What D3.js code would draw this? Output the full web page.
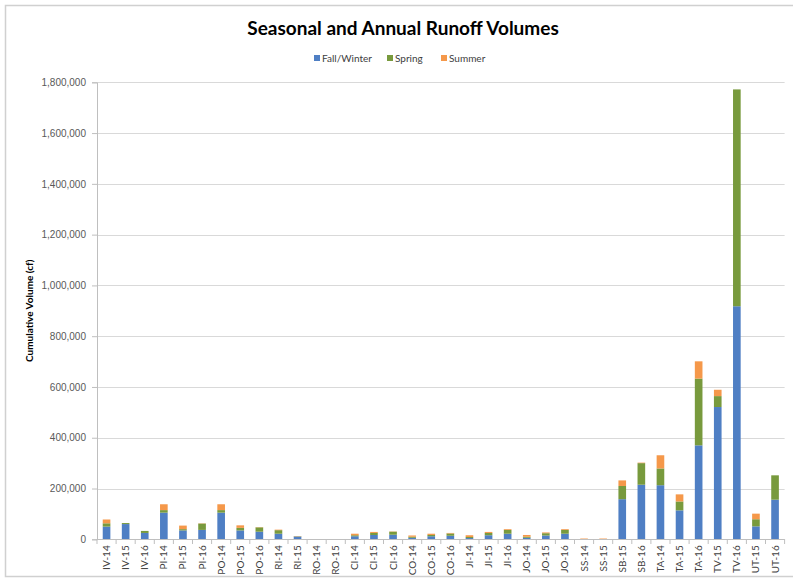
<!DOCTYPE html>
<html>
<head>
<meta charset="utf-8">
<script src="https://cdn.jsdelivr.net/npm/d3@7"></script>
<style>
  html, body { margin: 0; padding: 0; background: #fff; }
  svg { display: block; font-family: Lato, "Open Sans", sans-serif; }
</style>
</head>
<body>
<svg id="chart" width="793" height="581"></svg>
<script>
const categories = ["IV-14","IV-15","IV-16","PI-14","PI-15","PI-16","PO-14","PO-15","PO-16","RI-14","RI-15","RO-14","RO-15","CI-14","CI-15","CI-16","CO-14","CO-15","CO-16","JI-14","JI-15","JI-16","JO-14","JO-15","JO-16","SS-14","SS-15","SB-15","SB-16","TA-14","TA-15","TA-16","TV-15","TV-16","UT-15","UT-16"];
const fallWinter = [50000,60000,25000,105000,35000,37000,105000,35000,30000,22000,11000,0,0,12000,17000,18000,6000,12000,14000,5000,16000,22000,6000,15000,22000,1000,1000,158000,215000,213000,114000,370000,521000,918000,51000,156000];
const spring     = [13000,4000,8000,10000,5000,25000,10000,10000,17000,14000,1000,0,0,4000,8000,12000,4000,5000,9000,4000,9000,15000,4000,9000,15000,0,0,52000,85000,66000,35000,263000,43000,854000,28000,96000];
const summer     = [15000,0,0,23000,14000,1000,23000,10000,1000,2000,1000,0,0,6000,4000,1000,5000,5000,2000,7000,4000,3000,7000,3000,3000,2000,2000,22000,2000,52000,28000,68000,25000,0,22000,0];
const seriesNames = ["Fall/Winter","Spring","Summer"];
const seriesColors = ["#4f7fc4","#789a3d","#f5984a"];
const yTicks = [0,200000,400000,600000,800000,1000000,1200000,1400000,1600000,1800000];
const title = "Seasonal and Annual Runoff Volumes";
const yTitle = "Cumulative Volume (cf)";

(function () {
const svg = d3.select("#chart");

// chart border
svg.append("rect").attr("x",5.5).attr("y",5.5).attr("width",800).attr("height",571)
  .attr("fill","none").attr("stroke","#d0d0d0").attr("stroke-width",1.5);

const pLeft = 97, pRight = 784.6, pTop = 82.3, pBottom = 539.3;

const x = d3.scaleBand().domain(categories).range([pLeft, pRight]).paddingInner(0.6).paddingOuter(0.3);
const y = d3.scaleLinear().domain([0, 1800000]).range([pBottom, pTop]);

// gridlines
svg.append("g").selectAll("line").data(yTicks.filter(d => d > 0)).join("line")
  .attr("x1", pLeft).attr("x2", pRight)
  .attr("y1", d => Math.round(y(d)) + 0.5).attr("y2", d => Math.round(y(d)) + 0.5)
  .attr("stroke","#d9d9d9").attr("stroke-width",1);

// stacked data
const table = categories.map((c,i) => ({cat:c, "Fall/Winter":fallWinter[i], "Spring":spring[i], "Summer":summer[i]}));
const stack = d3.stack().keys(seriesNames)(table);

svg.append("g").selectAll("g").data(stack).join("g")
  .attr("fill", (d,i) => seriesColors[i])
  .selectAll("rect").data(d => d).join("rect")
  .attr("x", d => x(d.data.cat))
  .attr("width", x.bandwidth())
  .attr("y", d => y(d[1]))
  .attr("height", d => Math.max(0, y(d[0]) - y(d[1])));

// y axis
const yAxis = d3.axisLeft(y).tickValues(yTicks).tickSize(5).tickPadding(6)
  .tickFormat(d => d3.format(",")(d));
const gy = svg.append("g").attr("transform", `translate(${pLeft},0)`).call(yAxis);
gy.select(".domain").attr("stroke","#bfbfbf");
gy.selectAll(".tick line").attr("stroke","#bfbfbf");
gy.selectAll(".tick text").attr("fill","#595959").attr("font-size","10px");

// x axis line
svg.append("line").attr("x1", pLeft).attr("x2", pRight)
  .attr("y1", Math.round(pBottom)+0.5).attr("y2", Math.round(pBottom)+0.5)
  .attr("stroke","#bfbfbf");
// category boundary ticks
const bounds = d3.range(categories.length + 1).map(i => pLeft + i * (pRight - pLeft) / categories.length);
svg.append("g").selectAll("line").data(bounds).join("line")
  .attr("x1", d => d).attr("x2", d => d)
  .attr("y1", Math.round(pBottom)).attr("y2", Math.round(pBottom) + 5)
  .attr("stroke","#bfbfbf");

// x labels
svg.append("g").selectAll("text").data(categories).join("text")
  .attr("transform", d => `translate(${x(d) + x.bandwidth()/2},${pBottom + 6}) rotate(-90)`)
  .attr("text-anchor","end").attr("dy","0.35em")
  .attr("font-size","10px").attr("fill","#404040")
  .text(d => d);

// title
svg.append("text").attr("x", 403).attr("y", 35).attr("text-anchor","middle")
  .attr("font-size","19px").attr("font-weight","bold").attr("fill","#000")
  .text(title);

// y title
svg.append("text").attr("transform", `translate(33,${(pTop+pBottom)/2}) rotate(-90)`)
  .attr("text-anchor","middle").attr("font-size","10px").attr("font-weight","bold").attr("fill","#000")
  .text(yTitle);

// legend
const legendX = [314, 387, 441];
const lg = svg.append("g").selectAll("g").data(seriesNames).join("g")
  .attr("transform", (d,i) => `translate(${legendX[i]},58)`);
lg.append("rect").attr("x",0).attr("y",-3).attr("width",6).attr("height",6)
  .attr("fill", (d,i) => seriesColors[i]);
lg.append("text").attr("x",8).attr("dy","0.35em").attr("font-size","10px").attr("fill","#404040")
  .text(d => d);
})();
</script>
</body>
</html>
